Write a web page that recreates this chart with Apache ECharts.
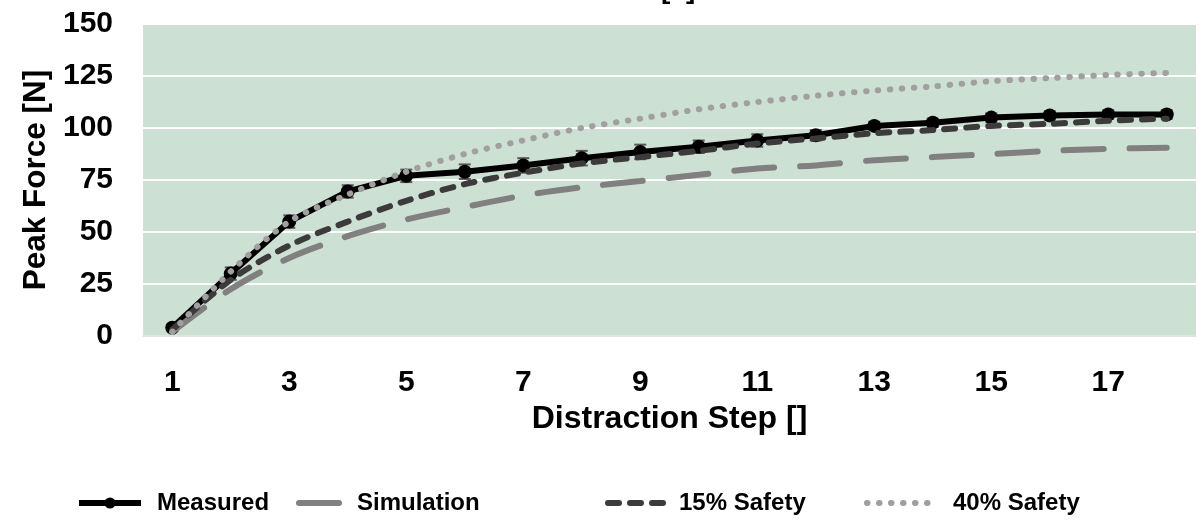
<!DOCTYPE html>
<html>
<head>
<meta charset="utf-8">
<script src="https://cdn.jsdelivr.net/npm/echarts@6/dist/echarts.min.js"></script>
<style>
  html, body { margin: 0; padding: 0; background: #ffffff; }
  #chart { width: 1202px; height: 528px; }
</style>
</head>
<body>
<div id="chart"></div>
<script>
// Distraction steps along the x axis
const steps = ['1','2','3','4','5','6','7','8','9','10','11','12','13','14','15','16','17','18'];
// Measured peak force [N] and its error (+/-)
const measured = [4, 30, 55, 69.5, 77, 79, 82, 85.5, 88.5, 91, 94, 96.5, 101, 102.5, 105, 106, 106.5, 106.5];
const measuredErr = [1.5, 3, 3, 3, 3, 3.5, 3.5, 3.5, 3.5, 3, 3, 2.5, 2, 2, 2, 2, 2, 2];
// Model curves
const simulation = [2, 22.5, 37.5, 48, 56, 62, 67.5, 71.5, 74.5, 77.5, 80.5, 82, 84.5, 86, 87.5, 89, 90, 90.5];
const safety15 = [3, 27, 43.5, 55, 65, 73, 78.5, 83, 86, 89, 92.5, 95, 97.5, 99, 101, 102, 103.5, 104.5];
const safety40 = [2, 31, 55, 68, 79, 87.5, 94, 100, 104.5, 109, 112.5, 115.5, 118, 120, 122.5, 124, 125.5, 126.5];
const yTicks = { min: 0, max: 150, interval: 25 };

const FONT = "'Liberation Sans', Arial, Helvetica, sans-serif";

// Line looks shared by the plotted series and their legend icons
const STYLE = {
  measured:   { color: '#000000', width: 6 },
  simulation: { color: '#808080', width: 6, type: [40, 26], cap: 'round' },
  safety15:   { color: '#3b3b3b', width: 6, type: [11, 11], cap: 'round' },
  safety40:   { color: '#a0a0a0', width: 6, type: [0.5, 11.5], cap: 'round' }
};

const chart = echarts.init(document.getElementById('chart'), null, { renderer: 'canvas' });

const errData = measured.map((v, i) => [i, v, measuredErr[i]]);

function legendItem(name, left, width, gapExtra, line, showSymbol) {
  return {
    data: [name],
    left: left,
    top: 486,
    itemWidth: width,
    itemHeight: 14,
    selectedMode: false,
    lineStyle: Object.assign({}, line),
    itemStyle: showSymbol ? { color: '#000' } : { opacity: 0 },
    textStyle: {
      fontFamily: FONT, fontWeight: 'bold', fontSize: 24, color: '#000',
      padding: [0, 0, 0, gapExtra]
    }
  };
}

chart.setOption({
  animation: false,
  backgroundColor: '#ffffff',
  graphic: [{
    type: 'text',
    left: 661,
    top: -24,
    style: { text: '[s]', fontFamily: FONT, fontWeight: 'bold', fontSize: 28, fill: '#000' }
  }],
  legend: [
    legendItem('Measured', 71, 62, 11, STYLE.measured, true),
    legendItem('Simulation', 291, 41, 12, STYLE.simulation, false),
    legendItem('15% Safety', 600, 57, 9, STYLE.safety15, false),
    legendItem('40% Safety', 859, 71, 10, STYLE.safety40, false)
  ],
  grid: {
    left: 143, right: 6, top: 24, bottom: 192,
    show: true, backgroundColor: '#cde0d4', borderWidth: 0
  },
  xAxis: {
    type: 'category',
    data: steps,
    boundaryGap: true,
    axisLine: { show: true, lineStyle: { color: '#d9d9d9', width: 1.5 } },
    axisTick: { show: false },
    axisLabel: {
      interval: 1, margin: 32,
      fontFamily: FONT, fontWeight: 'bold', fontSize: 30, color: '#000'
    },
    splitLine: { show: false },
    name: 'Distraction Step []',
    nameLocation: 'middle',
    nameGap: 62,
    nameTextStyle: { fontFamily: FONT, fontWeight: 'bold', fontSize: 32, color: '#000' }
  },
  yAxis: {
    type: 'value',
    min: yTicks.min, max: yTicks.max, interval: yTicks.interval,
    axisLine: { show: false },
    axisTick: { show: false },
    axisLabel: {
      margin: 30,
      fontFamily: FONT, fontWeight: 'bold', fontSize: 30, color: '#000'
    },
    splitLine: { show: true, lineStyle: { color: '#ffffff', width: 2 } },
    name: 'Peak Force [N]',
    nameLocation: 'middle',
    nameRotate: 90,
    nameGap: 91,
    nameTextStyle: { fontFamily: FONT, fontWeight: 'bold', fontSize: 31.5, color: '#000' }
  },
  series: [
    {
      name: 'MeasuredError',
      type: 'custom',
      data: errData,
      z: 2,
      renderItem: function (params, api) {
        const i = api.value(0);
        const v = api.value(1);
        const e = api.value(2);
        const top = api.coord([i, v + e]);
        const bot = api.coord([i, v - e]);
        const hw = 6;
        const st = { stroke: '#5a5a5a', lineWidth: 2 };
        return {
          type: 'group',
          children: [
            { type: 'line', shape: { x1: top[0], y1: top[1], x2: bot[0], y2: bot[1] }, style: st },
            { type: 'line', shape: { x1: top[0] - hw, y1: top[1], x2: top[0] + hw, y2: top[1] }, style: st },
            { type: 'line', shape: { x1: bot[0] - hw, y1: bot[1], x2: bot[0] + hw, y2: bot[1] }, style: st }
          ]
        };
      }
    },
    {
      name: 'Measured',
      type: 'line',
      data: measured,
      z: 3,
      color: '#000000',
      symbol: 'circle',
      symbolSize: 14,
      itemStyle: { color: '#000000' },
      lineStyle: STYLE.measured
    },
    {
      name: 'Simulation',
      type: 'line',
      data: simulation,
      z: 4,
      color: '#808080',
      smooth: 0.3,
      showSymbol: false,
      symbol: 'none',
      lineStyle: STYLE.simulation
    },
    {
      name: '15% Safety',
      type: 'line',
      data: safety15,
      z: 5,
      color: '#3b3b3b',
      smooth: 0.3,
      showSymbol: false,
      symbol: 'none',
      lineStyle: STYLE.safety15
    },
    {
      name: '40% Safety',
      type: 'line',
      data: safety40,
      z: 6,
      color: '#a0a0a0',
      smooth: 0.3,
      showSymbol: false,
      symbol: 'none',
      lineStyle: STYLE.safety40
    }
  ]
});
</script>
</body>
</html>
